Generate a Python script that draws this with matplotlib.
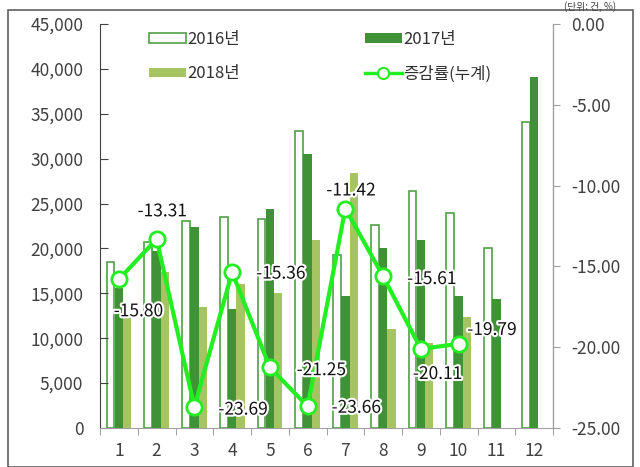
import matplotlib
matplotlib.use("Agg")
import matplotlib.pyplot as plt
import matplotlib.patheffects as pe
from matplotlib.patches import Rectangle
from matplotlib.lines import Line2D
from matplotlib.ticker import FuncFormatter, FixedLocator
import numpy as np

plt.rcParams['font.family'] = ['Noto Sans CJK KR', 'DejaVu Sans']

months = ["1", "2", "3", "4", "5", "6", "7", "8", "9", "10", "11", "12"]
y2016 = [18500, 20750, 23100, 23550, 23250, 33100, 19300, 22600, 26450, 23900, 20100, 34050]
y2017 = [15550, 19700, 22350, 13250, 24400, 30500, 14650, 20100, 20900, 14700, 14400, 39150]
y2018 = [12500, 17400, 13500, 16000, 15000, 20900, 28450, 11050, 9450, 12350]
rate = [-15.80, -13.31, -23.69, -15.36, -21.25, -23.66, -11.42, -15.61, -20.11, -19.79]
rate_labels = ["-15.80", "-13.31", "-23.69", "-15.36", "-21.25", "-23.66", "-11.42", "-15.61", "-20.11", "-19.79"]
label_offsets = [(14, -23), (4, 20), (35, -2), (35, -1), (37, -2), (35, -1), (4, 13), (35, -2), (12, -18), (24, 10)]

c16_edge = "#4fa244"
c17 = "#3f9236"
c18 = "#a6c462"
cline = "#22ee22"

fig = plt.figure(figsize=(6.4, 4.67), dpi=100)
ax = fig.add_axes([100/640, 1-428/467, 453/640, 404/467])
ax2 = ax.twinx()

x = np.arange(1, 13)
w = 0.22
b16 = ax.bar(x - w, y2016, width=w*0.92, facecolor="white", edgecolor=c16_edge, linewidth=1.2, label="2016년")
b17 = ax.bar(x, y2017, width=w, color=c17, label="2017년")
b18 = ax.bar(x[:len(y2018)] + w, y2018, width=w, color=c18, label="2018년")

ax.set_xlim(0.5, 12.5)
ax.set_ylim(0, 45000)
ax.set_yticks(np.arange(0, 45001, 5000))
ax.yaxis.set_major_formatter(FuncFormatter(lambda v, p: f"{int(v):,}"))
ax.set_xticks(x)
ax.set_xticklabels(months)
ax.xaxis.set_minor_locator(FixedLocator(np.arange(0.5, 12.6, 1)))
ax.tick_params(axis='x', which='major', length=0, pad=10, labelsize=12.5, labelcolor="#404040")
ax.tick_params(axis='x', which='minor', length=5, color="#909090", direction='out')
ax.tick_params(axis='y', direction='in', length=6, color="#404040", labelsize=12.5, labelcolor="#404040", pad=12)

ln, = ax2.plot(x[:len(rate)], rate, color=cline, linewidth=3, marker='o', markersize=11,
               markerfacecolor="white", markeredgecolor=cline, markeredgewidth=2, label="증감률(누계)", zorder=5)
ax2.set_ylim(-25, 0)
ax2.set_yticks(np.arange(-25, 0.1, 5))
ax2.yaxis.set_major_formatter(FuncFormatter(lambda v, p: f"{v:.2f}"))
ax2.tick_params(axis='y', direction='out', length=5, color="#a0a0a0", labelsize=12.5, labelcolor="#404040", pad=8)

for a in (ax, ax2):
    a.spines['top'].set_visible(False)
ax.spines['left'].set_color("#404040")
ax.spines['bottom'].set_color("#a0a0a0")
ax2.spines['right'].set_color("#a0a0a0")
ax2.spines['left'].set_visible(False)
ax2.spines['bottom'].set_visible(False)

for xi, v, t, (dx, dy) in zip(x, rate, rate_labels, label_offsets):
    ax2.annotate(t, (xi, v), xytext=(dx, dy), textcoords='offset points', ha='center', va='center',
                 fontsize=12.5, color="#111111", zorder=6,
                 path_effects=[pe.withStroke(linewidth=3, foreground="white")])

line_proxy = Line2D([], [], color=cline, linewidth=2.5, marker='o', markersize=8,
                    markerfacecolor="white", markeredgecolor=cline, markeredgewidth=1.5)
handles = [b16, b18, b17, line_proxy]
labels = ["2016년", "2018년", "2017년", "증감률(누계)"]
leg = ax.legend(handles, labels, ncol=2, loc='upper left', bbox_to_anchor=(0.075, 1.02),
                frameon=False, fontsize=12, handlelength=2.2, handleheight=0.5,
                handletextpad=0.1, columnspacing=7.5, labelspacing=1.05)
for t in leg.get_texts():
    t.set_color("#303030")

fig.patches.append(Rectangle((8/640, 0), 625/640, 1-10/467, transform=fig.transFigure,
                             fill=False, edgecolor="#606060", linewidth=1.2))
fig.text(616/640, 1-1/467, "(단위: 건, %)", ha='right', va='top', fontsize=7, color="#404040")

fig.savefig("out.png", dpi=100)
